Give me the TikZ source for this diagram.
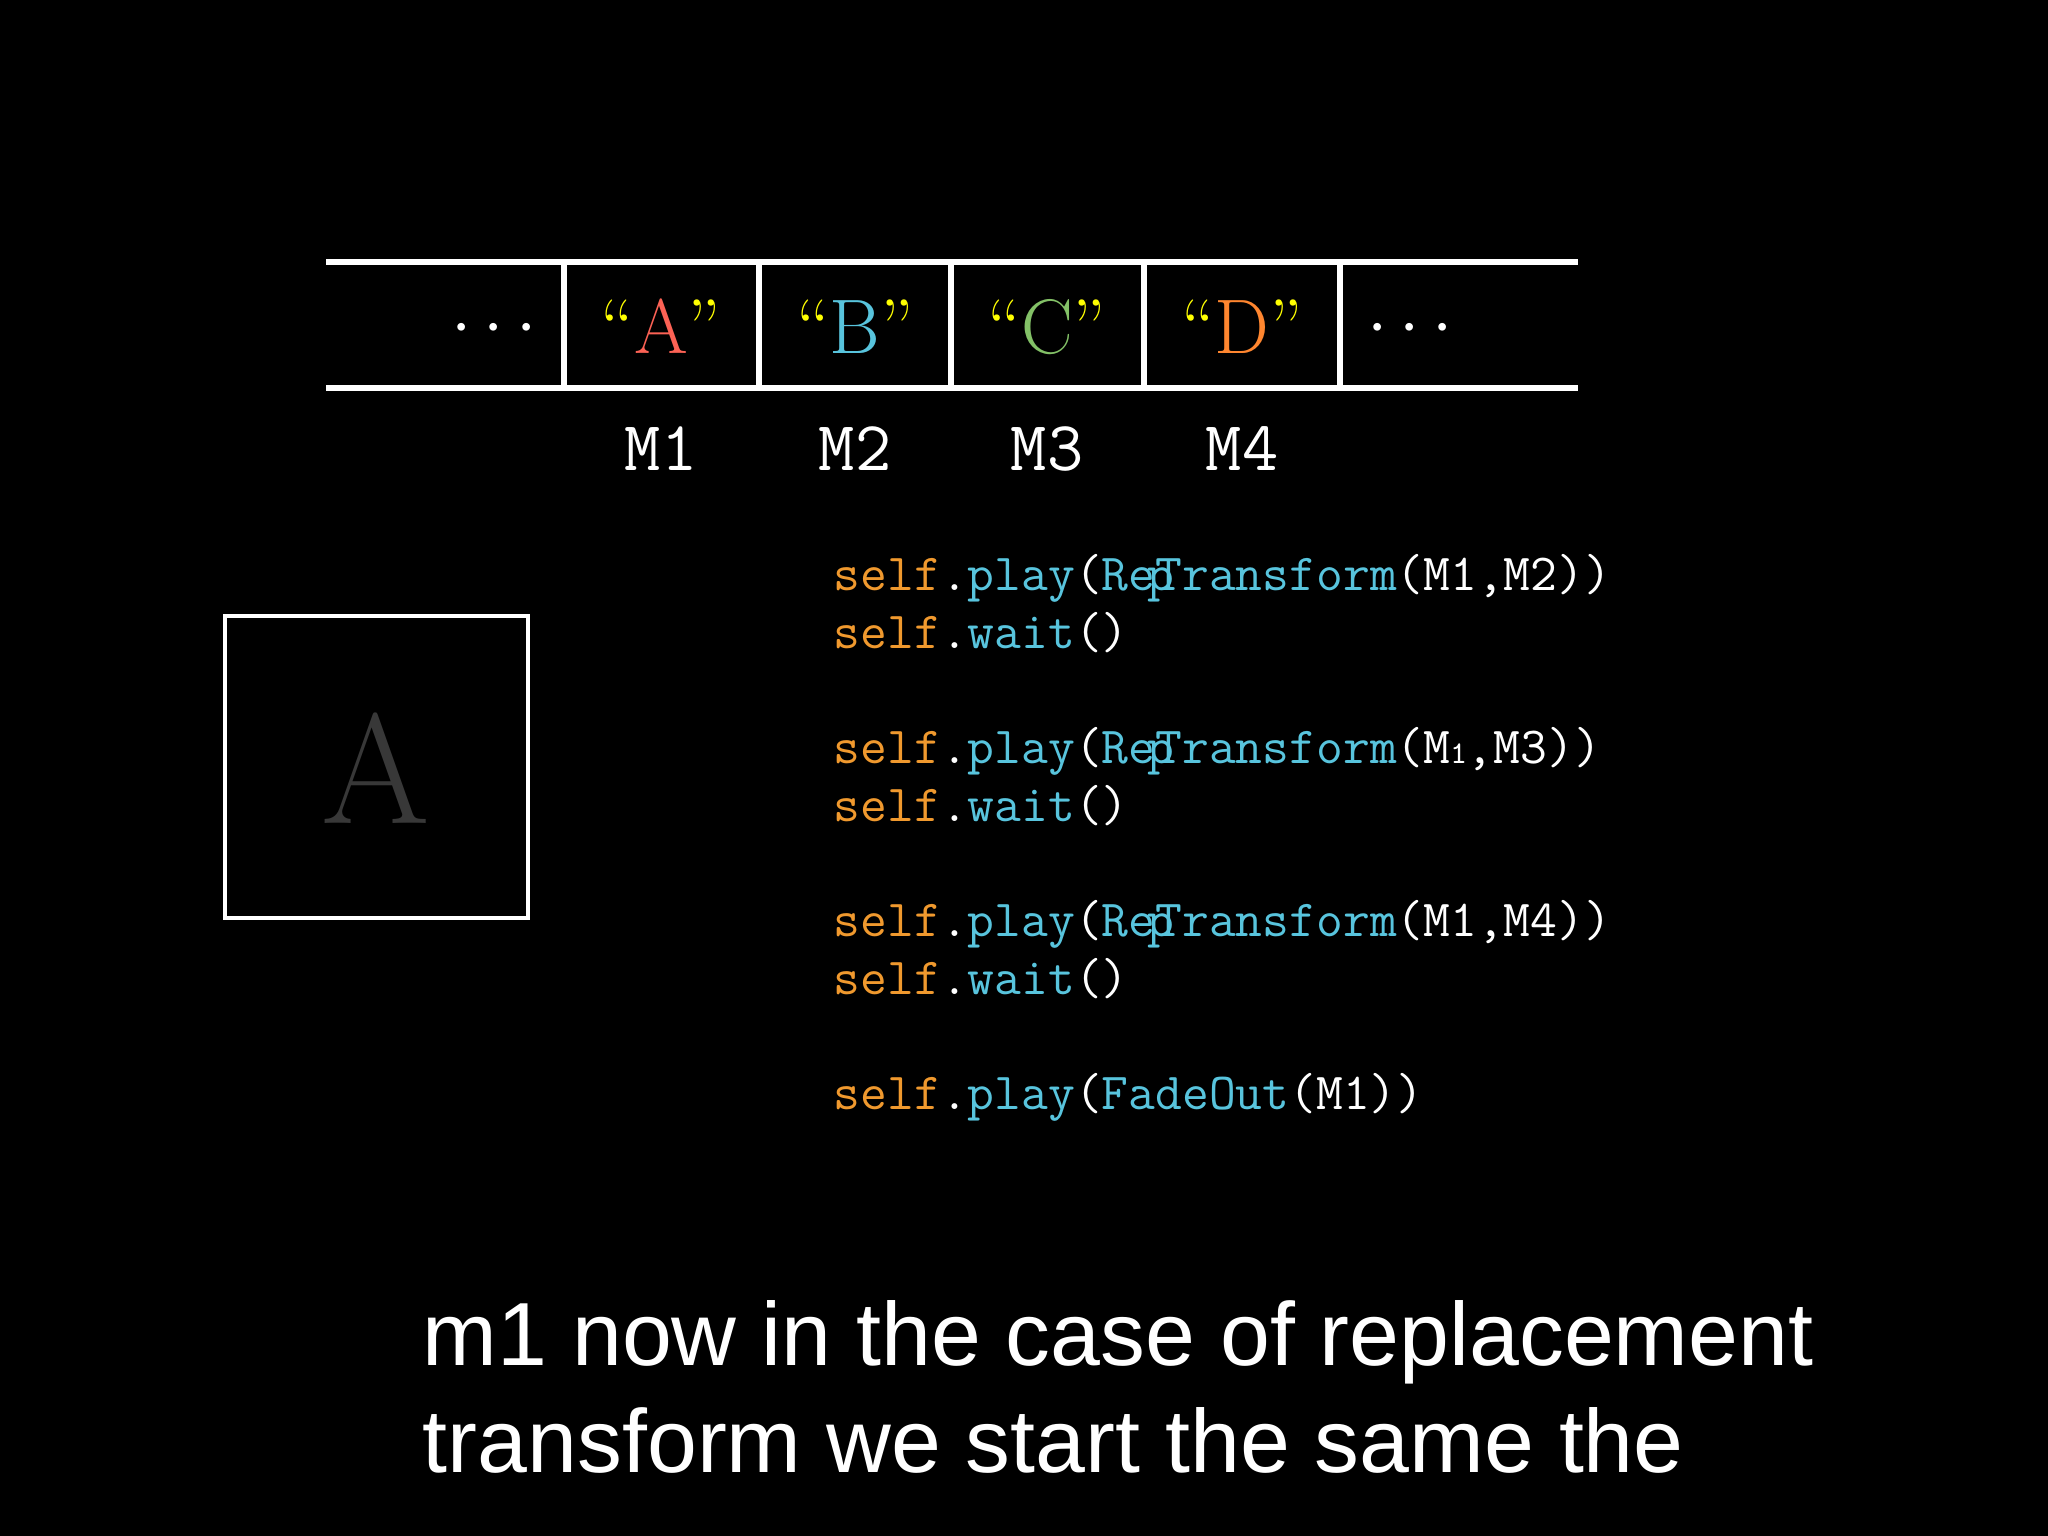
\documentclass[tikz,border=0pt]{standalone}
\usepackage{fontspec}
\newfontfamily\capfont{Liberation Sans}
\usetikzlibrary{positioning}

\definecolor{codeorange}{HTML}{F0992E}
\definecolor{codeblue}{HTML}{58C4DD}
\definecolor{cellred}{HTML}{FC6255}
\definecolor{cellblue}{HTML}{58C4DD}
\definecolor{cellgreen}{HTML}{83C167}
\definecolor{cellorange}{HTML}{FF862F}
\definecolor{quoteyellow}{HTML}{FFFF00}
\definecolor{ghostgray}{HTML}{383838}

\newcommand{\slf}{\textcolor{codeorange}{self}}
\newcommand{\kw}[1]{\textcolor{codeblue}{#1}}

\begin{document}
\begin{tikzpicture}[x=0.01cm,y=-0.01cm,line width=0.5pt,
  tape/.style={white,line width=1.45pt},
  cell/.style={inner sep=0pt,anchor=base,font=\fontsize{22}{22}\selectfont},
  memlabel/.style={inner sep=0pt,anchor=base,white,font=\ttfamily\fontsize{20}{20}\selectfont},
  codeline/.style={inner sep=0pt,anchor=base west,white,font=\ttfamily\fontsize{14.8}{14.8}\selectfont},
  caption/.style={inner sep=0pt,anchor=base west,white,font=\capfont\fontsize{25.5}{25.5}\selectfont}]
  % --- background and frame ---
  \fill[black] (0,0) rectangle (2048,1536);
  \useasboundingbox (0,0) rectangle (2048,1536);
  % --- memory tape ---
  \draw[tape] (326,262) -- (1578,262);
  \draw[tape] (326,388) -- (1578,388);
  \foreach \x in {564,759,951,1144,1340}
    \draw[tape] (\x,262) -- (\x,388);
  \node[cell,white] (dl) at (494,345) {$\cdots$};
  \node[cell,white] (dr) at (1410,345) {$\cdots$};
  \foreach \l/\c/\x [count=\i] in {A/cellred/661,B/cellblue/855,C/cellgreen/1047,D/cellorange/1242} {
    \node[cell] (q\i) at (\x,353) {\textcolor{quoteyellow}{``}\textcolor{\c}{\l}\textcolor{quoteyellow}{''}};
    \node[memlabel] (m\i) at (\x,470) {M\i};
  }
  % --- object on screen ---
  \draw[white,line width=1.15pt] (225,616) rectangle (528,918);
  \node[inner sep=0pt,anchor=base,ghostgray,font=\fontsize{44.5}{44.5}\selectfont] (ghost) at (376,823) {A};
  % --- code ---
  \node[codeline] (c1) at (833,590) {\slf.\kw{play}(\kw{Re\rlap{\kern-0.15em p}Transform}(M1,M2))};
  \node[codeline] (c2) at (833,648) {\slf.\kw{wait}()};
  \node[codeline] (c3) at (833,763) {\slf.\kw{play}(\kw{Re\rlap{\kern-0.15em p}Transform}(M{\fontsize{9}{9}\selectfont 1},M3))};
  \node[codeline] (c4) at (833,821) {\slf.\kw{wait}()};
  \node[codeline] (c5) at (833,936) {\slf.\kw{play}(\kw{Re\rlap{\kern-0.15em p}Transform}(M1,M4))};
  \node[codeline] (c6) at (833,994) {\slf.\kw{wait}()};
  \node[codeline] (c7) at (833,1109) {\slf.\kw{play}(\kw{FadeOut}(M1))};
  % --- subtitle ---
  \node[caption] (cap1) at (422,1365) {m1 now in the case of replacement};
  \node[caption] (cap2) at (422,1472) {transform we start the same the};
\end{tikzpicture}
\end{document}
